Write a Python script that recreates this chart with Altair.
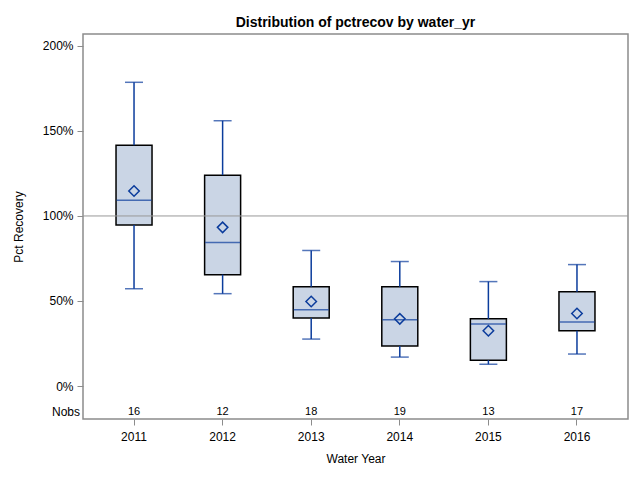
import altair as alt
import pandas as pd

years = ["2011", "2012", "2013", "2014", "2015", "2016"]
n_obs = [16, 12, 18, 19, 13, 17]
whisker_low = [57.2, 54.3, 27.6, 17.0, 12.8, 18.8]
q1 = [94.7, 65.5, 40.0, 23.5, 15.2, 32.5]
median = [109.2, 84.4, 44.8, 38.9, 36.5, 37.7]
q3 = [141.6, 124.0, 58.4, 58.4, 39.5, 55.4]
whisker_high = [178.6, 156.0, 79.7, 73.2, 61.4, 71.4]
means = [114.7, 93.3, 49.7, 39.5, 32.5, 42.6]
ref_value = [100]
y_ticks = [0, 50, 100, 150, 200]

df = pd.DataFrame({
    "year": years, "n": n_obs, "lo": whisker_low, "q1": q1, "med": median,
    "q3": q3, "hi": whisker_high, "mean": means,
})

BLUE = "#0B3C9C"
FILL = "#CAD5E5"
GRID = "#8c8c8c"
FONT = "Liberation Sans"

x = alt.X("year:N", title="Water Year",
          scale=alt.Scale(type="band", paddingInner=0, paddingOuter=0.076),
          axis=alt.Axis(labelAngle=0, domain=False, tickColor=GRID, tickSize=6,
                        labelPadding=6, titlePadding=11, labelFontSize=12,
                        titleFontSize=12, labelFont=FONT, titleFont=FONT,
                        labelColor="#000", titleColor="#000", titleFontWeight="normal"))
yscale = alt.Scale(domain=[-19.4, 207], nice=False, zero=False)
yaxis = alt.Axis(values=y_ticks, labelExpr="datum.value + '%'", domain=False,
                 grid=False, tickColor=GRID, tickSize=6, labelPadding=4,
                 titlePadding=17, labelFontSize=12, titleFontSize=12,
                 labelFont=FONT, titleFont=FONT, labelColor="#000",
                 titleColor="#000", titleFontWeight="normal")

base = alt.Chart(df)

lower_whisker = base.mark_rule(color=BLUE, strokeWidth=1.5).encode(
    x=x, y=alt.Y("lo:Q", scale=yscale, axis=yaxis, title="Pct Recovery"), y2="q1:Q")
upper_whisker = base.mark_rule(color=BLUE, strokeWidth=1.5).encode(
    x=x, y=alt.Y("q3:Q"), y2="hi:Q")
cap_lo = base.mark_tick(color=BLUE, size=18, thickness=1.5).encode(x=x, y="lo:Q")
cap_hi = base.mark_tick(color=BLUE, size=18, thickness=1.5).encode(x=x, y="hi:Q")
box = base.mark_bar(size=36, fill=FILL, stroke="#000", strokeWidth=1.5).encode(
    x=x, y="q1:Q", y2="q3:Q")
ref = alt.Chart(pd.DataFrame({"v": ref_value})).mark_rule(
    color="#999999", strokeWidth=1).encode(y="v:Q")
med = base.mark_tick(color=BLUE, size=35, thickness=1.5).encode(x=x, y="med:Q")
mean_pt = base.mark_point(shape="diamond", size=110, filled=False, color=BLUE,
                          strokeWidth=1.5, opacity=1).encode(x=x, y="mean:Q")
nobs = base.mark_text(fontSize=11, font=FONT, color="#000", baseline="middle").encode(
    x=x, y=alt.value(378), text="n:Q")
nobs_label = alt.Chart(pd.DataFrame({"t": ["Nobs"]})).mark_text(
    fontSize=12, font=FONT, color="#000", align="right", baseline="middle").encode(
    x=alt.value(-3), y=alt.value(378), text="t:N")

chart = alt.layer(
    box, ref, lower_whisker, upper_whisker, cap_lo, cap_hi, med, mean_pt, nobs, nobs_label
).properties(
    width=545, height=385,
    title=alt.TitleParams("Distribution of pctrecov by water_yr", font=FONT,
                          fontSize=14, fontWeight="bold", color="#000",
                          anchor="middle", offset=6, dy=2),
    autosize=alt.AutoSizeParams(type="none"),
    padding={"left": 75, "top": 26, "right": 4, "bottom": 50},
).configure_view(stroke=GRID, strokeWidth=1.5)

chart.save("out.html", embed_options={"renderer": "svg", "actions": False})
